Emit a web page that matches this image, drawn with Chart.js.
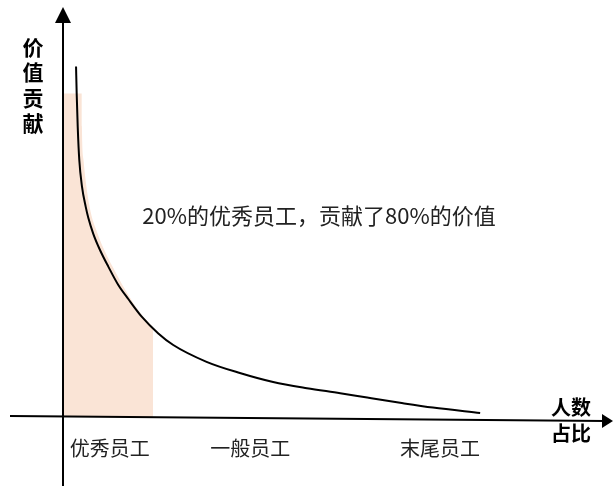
<!DOCTYPE html>
<html>
<head>
<meta charset="utf-8">
<script src="https://cdn.jsdelivr.net/npm/chart.js@4/dist/chart.umd.min.js"></script>
<style>
  html, body { margin: 0; padding: 0; background: #fff; }
  #wrap { width: 613px; height: 486px; }
</style>
</head>
<body>
<div id="wrap"><canvas id="c" width="613" height="486"></canvas></div>
<script>
// Share of headcount (%) and value contribution along the long-tail curve
const shareX = [2.9, 3.04, 3.27, 3.62, 4.22, 5.04, 5.62, 6.73, 8.22, 10.07, 12.29, 14.51, 17.49, 21.18, 24.5, 31.9, 39.3, 46.7, 54.2, 61.6, 67.6, 74.9, 82.2, 92.7];
const valueY = [87.6, 80.9, 72.6, 64.25, 57.6, 52.6, 49.8, 45.8, 41.75, 37.6, 33.0, 29.5, 25.1, 20.9, 18, 13.8, 11, 8.75, 7.2, 5.95, 4.85, 3.55, 2.35, 1.0];

// Outline of the shaded top-20% block
const topShareX = [0, 4.15, 4.2, 4.55, 5.9, 7.67, 11, 15.2, 17.8, 20];
const topValueY = [80.9, 80.9, 72.6, 64.25, 52.6, 45.9, 37.6, 29.25, 25.1, 22.5];

// Group labels along the headcount axis and where they sit
const groupLabels = ['优秀员工', '一般员工', '末尾员工'];
const groupCenters = [10.4, 41.6, 83.8];

const noteText = '20%的优秀员工，贡献了80%的价值';
const yTitleChars = ['价', '值', '贡', '献'];
const xTitleLines = ['人数', '占比'];

const FONT = '"Noto Sans CJK SC", "Noto Sans", sans-serif';

const curvePts = shareX.map((x, i) => ({ x, y: valueY[i] }));
const topPts = topShareX.map((x, i) => ({ x, y: topValueY[i] }));

// Arrowed axes plus the free text
const axesAndText = {
  id: 'axesAndText',
  afterDatasetsDraw(chart) {
    const ctx = chart.ctx;
    const xs = chart.scales.x, ys = chart.scales.y;
    const ox = xs.getPixelForValue(0);
    const oy = ys.getPixelForValue(0);
    ctx.save();
    ctx.strokeStyle = '#000';
    ctx.fillStyle = '#000';
    ctx.lineWidth = 2;
    // vertical axis
    ctx.beginPath();
    ctx.moveTo(ox, 20);
    ctx.lineTo(ox, chart.height);
    ctx.stroke();
    ctx.beginPath();
    ctx.moveTo(ox, 7);
    ctx.lineTo(ox - 8, 23);
    ctx.lineTo(ox + 8, 23);
    ctx.closePath();
    ctx.fill();
    // horizontal axis
    ctx.beginPath();
    ctx.moveTo(10, oy - 1);
    ctx.lineTo(605, oy + 4);
    ctx.stroke();
    ctx.beginPath();
    ctx.moveTo(613, oy + 4);
    ctx.lineTo(602, oy - 3);
    ctx.lineTo(602, oy + 11);
    ctx.closePath();
    ctx.fill();
    ctx.restore();
  },
  afterDraw(chart) {
    const ctx = chart.ctx;
    ctx.save();
    ctx.textAlign = 'center';
    ctx.textBaseline = 'middle';
    ctx.fillStyle = '#222';
    ctx.font = '22px ' + FONT;
    ctx.fillText(noteText, 319, 216);
    ctx.fillStyle = '#000';
    ctx.font = 'bold 21px ' + FONT;
    yTitleChars.forEach((ch, i) => ctx.fillText(ch, 33, 47 + i * 25.3));
    ctx.font = 'bold 20px ' + FONT;
    xTitleLines.forEach((t, i) => ctx.fillText(t, 571, 407 + i * 26));
    ctx.restore();
  }
};

new Chart(document.getElementById('c'), {
  type: 'line',
  data: {
    datasets: [
      {
        data: curvePts,
        borderColor: '#000',
        borderWidth: 2,
        pointRadius: 0,
        cubicInterpolationMode: 'monotone',
        fill: false,
        order: 1
      },
      {
        data: topPts,
        borderWidth: 0,
        borderColor: 'rgba(0,0,0,0)',
        backgroundColor: 'rgb(250,228,214)',
        pointRadius: 0,
        cubicInterpolationMode: 'monotone',
        fill: 'origin',
        order: 2
      }
    ]
  },
  options: {
    responsive: false,
    devicePixelRatio: 1,
    animation: false,
    layout: { padding: { left: 63, top: 17, right: 10, bottom: 0 } },
    plugins: { legend: { display: false }, tooltip: { enabled: false } },
    scales: {
      x: {
        type: 'linear',
        min: 0,
        max: 120,
        position: 'bottom',
        grid: { display: false, drawTicks: false, tickLength: 0 },
        border: { display: false },
        ticks: {
          autoSkip: false,
          maxRotation: 0,
          minRotation: 0,
          padding: 19,
          color: '#222',
          font: { family: FONT, size: 20 },
          callback: (v, i) => groupLabels[i]
        },
        afterBuildTicks: s => { s.ticks = groupCenters.map(v => ({ value: v })); },
        afterFit: s => { s.height = 69; }
      },
      y: {
        type: 'linear',
        min: 0,
        max: 100,
        display: false
      }
    }
  },
  plugins: [axesAndText]
});
</script>
</body>
</html>
